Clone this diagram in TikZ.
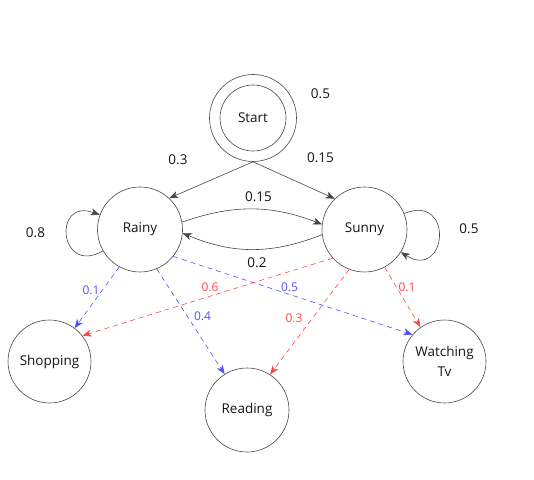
\documentclass[tikz,border=0pt]{standalone}
\usepackage{fontspec}
\setmainfont{Open Sans}
\usetikzlibrary{arrows.meta}
\definecolor{ink}{RGB}{20,20,20}
\definecolor{rim}{RGB}{70,70,70}
\definecolor{rainc}{RGB}{80,80,255}
\definecolor{sunc}{RGB}{255,70,70}
\tikzset{
  every picture/.style={color=ink, line width=0.6pt},
  state/.style={circle, draw=rim, inner sep=0pt, minimum size=85pt, align=center, font=\fontsize{13.5}{20}\selectfont},
  flow/.style={-{Stealth[length=9pt,width=7pt,inset=2.5pt]}, draw=rim, line width=0.6pt},
  emit/.style={flow, dashed, dash pattern=on 5pt off 4pt},
  rainy/.style={emit, draw=rainc},
  sunny/.style={emit, draw=sunc},
  prob/.style={font=\fontsize{13.5}{16}\selectfont, inner sep=1pt},
  rlbl/.style={font=\fontsize{12}{14}\selectfont, text=rainc, inner sep=1pt},
  slbl/.style={font=\fontsize{12}{14}\selectfont, text=sunc, inner sep=1pt},
}
\begin{document}
\begin{tikzpicture}[x=1pt,y=1pt]
  \useasboundingbox (0,0) rectangle (534,479);
  % hidden states
  \node[state, minimum size=87pt] (start) at (253,361) {};
  \node[state, minimum size=66pt] (startin) at (start) {Start};
  \node[state] (rain) at (140,249.5) {Rainy};
  \node[state] (sun) at (364.5,249.5) {Sunny};
  % observations
  \node[state, minimum size=83pt] (shop) at (49.5,117.5) {Shopping};
  \node[state, minimum size=84pt] (read) at (247,69) {Reading};
  \node[state, minimum size=83pt] (tv) at (444.5,117.5) {Watching\\Tv};
  % transitions
  \draw[flow] (start.south) -- (rain.47);
  \draw[flow] (start.south) -- (sun.134);
  \draw[flow] (rain.10) to[bend left=20] (sun.173);
  \draw[flow] (sun.187) to[bend left=22] (rain.-5);
  \draw[flow] (rain) to[out=210, in=160, looseness=3.6] (rain);
  \draw[flow] (sun) to[out=22, in=-32, looseness=3.6] (sun);
  % emissions
  \draw[rainy] (rain.241) -- (shop.53);
  \draw[rainy] (rain.-67) -- (read.122);
  \draw[rainy] (rain.-39) -- (tv.140);
  \draw[sunny] (sun.222) -- (shop.38);
  \draw[sunny] (sun.249) -- (read.57);
  \draw[sunny] (sun.-62) -- (tv.125);
  % probabilities
  \node[prob] (pstart) at (320.5,385) {0.5};
  \node[prob] (psr) at (178,319) {0.3};
  \node[prob] (pss) at (320.5,321) {0.15};
  \node[prob] (prs) at (258.5,282) {0.15};
  \node[prob] (psrn) at (257,216) {0.2};
  \node[prob] (prr) at (35.5,246) {0.8};
  \node[prob] (pyy) at (469,250) {0.5};
  \node[rlbl] (rshop) at (91,189) {0.1};
  \node[rlbl] (rread) at (202.5,163) {0.4};
  \node[rlbl] (rtv) at (289.5,192) {0.5};
  \node[slbl] (sshop) at (210,192) {0.6};
  \node[slbl] (sread) at (294,161) {0.3};
  \node[slbl] (stv) at (407,192) {0.1};
\end{tikzpicture}
\end{document}
